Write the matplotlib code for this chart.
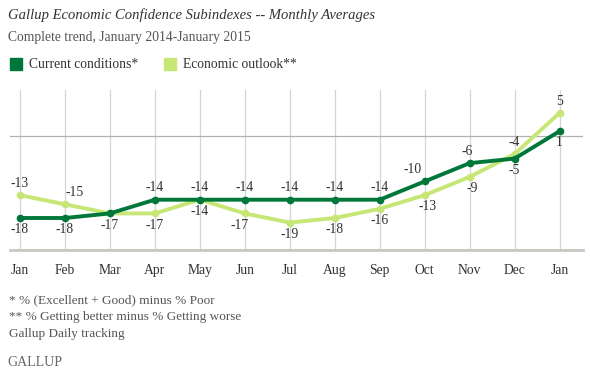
import matplotlib
matplotlib.use("Agg")
import matplotlib.pyplot as plt
from matplotlib.patches import Rectangle

# ---- data ----
months = ["Jan", "Feb", "Mar", "Apr", "May", "Jun", "Jul",
          "Aug", "Sep", "Oct", "Nov", "Dec", "Jan"]
current = [-18, -18, -17, -14, -14, -14, -14, -14, -14, -10, -6, -5, 1]
outlook = [-13, -15, -17, -17, -14, -17, -19, -18, -16, -13, -9, -4, 5]

# label side per point: 1 above, -1 below, 0 no label
current_side = [-1, -1, -1, 1, 1, 1, 1, 1, 1, 1, 1, -1, -1]
outlook_side = [1, 1, 0, -1, -1, -1, -1, -1, -1, -1, -1, 1, 1]
current_dx = [0, 0, 0, 0, 0, 0, 0, 0, 0, -9, -2, 0, 0]
outlook_dx = [0, 7, 0, 0, 0, -4, 0, 0, 0, 2, 2, 0, 0]

dark = "#00773a"
light = "#c6e676"
plt.rcParams["font.family"] = ["Liberation Serif", "DejaVu Serif"]

fig = plt.figure(figsize=(5.9, 3.77), dpi=100)
ax = fig.add_axes([10 / 590, 1 - 250 / 377, 573 / 590, 160 / 377])

x = list(range(len(months)))
ax.set_xlim(-0.22, len(months) - 1 + 0.52)
ax.set_ylim(-25, 10)

for xi in x:
    ax.axvline(xi, color="#d4d4d4", lw=0.9, zorder=0)
ax.axhline(0, color="#b0b0b0", lw=0.9, zorder=1)

ax.plot(x, outlook, color=light, lw=2.8, marker="o", ms=4.5, zorder=3)
ax.plot(x, current, color=dark, lw=2.8, marker="o", ms=4.5, zorder=4)

def put_labels(vals, sides, dxs):
    for xi, v, s, d in zip(x, vals, sides, dxs):
        if s == 0:
            continue
        ax.annotate(str(v), (xi, v), xytext=(d, 8.5 * s), textcoords="offset points",
                    ha="center", va="center", fontsize=9.8, color="#333333")

put_labels(current, current_side, current_dx)
put_labels(outlook, outlook_side, outlook_dx)

for s in ["top", "right", "left"]:
    ax.spines[s].set_visible(False)
ax.spines["bottom"].set_color("#c8c8c0")
ax.spines["bottom"].set_linewidth(2)
ax.set_yticks([])
ax.set_xticks(x)
ax.set_xticklabels(months, fontsize=9.8, color="#333333")
ax.tick_params(axis="x", length=0, pad=10)

# ---- header ----
fig.text(8 / 590, 1 - 15 / 377, "Gallup Economic Confidence Subindexes -- Monthly Averages",
         fontsize=10.5, style="italic", color="#333333", va="center")
fig.text(8 / 590, 1 - 38 / 377, "Complete trend, January 2014-January 2015",
         fontsize=9.8, color="#555555", va="center")

fig.patches.append(Rectangle((10 / 590, 1 - 70 / 377), 12 / 590, 12 / 377,
                             transform=fig.transFigure, color=dark))
fig.text(29 / 590, 1 - 64 / 377, "Current conditions*", fontsize=9.8,
         color="#333333", va="center")
fig.patches.append(Rectangle((164 / 590, 1 - 70 / 377), 12 / 590, 12 / 377,
                             transform=fig.transFigure, color=light))
fig.text(183 / 590, 1 - 64 / 377, "Economic outlook**", fontsize=9.8,
         color="#333333", va="center")

# ---- footnotes ----
notes = ["* % (Excellent + Good) minus % Poor",
         "** % Getting better minus % Getting worse",
         "Gallup Daily tracking"]
for i, n in enumerate(notes):
    fig.text(9 / 590, 1 - (300 + 17 * i) / 377, n, fontsize=9.5,
             color="#555555", va="center")
fig.text(7 / 590, 1 - 362 / 377, "GALLUP", fontsize=10, color="#666666", va="center")

fig.savefig("out.png", dpi=100)
